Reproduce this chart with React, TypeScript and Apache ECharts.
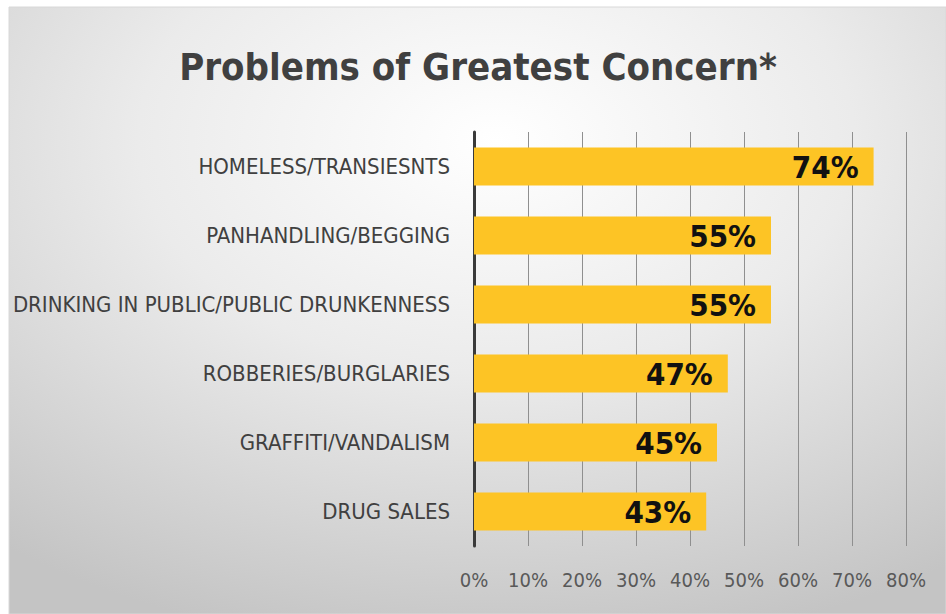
import React, { useEffect, useRef } from "react";
import * as echarts from "echarts";

const categories = [
  "HOMELESS/TRANSIESNTS",
  "PANHANDLING/BEGGING",
  "DRINKING IN PUBLIC/PUBLIC DRUNKENNESS",
  "ROBBERIES/BURGLARIES",
  "GRAFFITI/VANDALISM",
  "DRUG SALES",
];
const values = [74, 55, 55, 47, 45, 43];
const titleText = "Problems of Greatest Concern*";
const axisMin = 0;
const axisMax = 80;
const axisStep = 10;

const FONT = "'DejaVu Sans Condensed', 'Liberation Sans', sans-serif";

export default function App() {
  const ref = useRef<HTMLDivElement>(null);
  useEffect(() => {
    if (!ref.current) return;
    const chart = echarts.init(ref.current, null, { renderer: "svg" });
    chart.setOption({
      animation: false,
      backgroundColor: "#ffffff",
      graphic: [
        {
          type: "rect",
          z: -10,
          silent: true,
          shape: { x: 9, y: 7, width: 946 - 9, height: 614 - 7 },
          style: {
            fill: new echarts.graphic.RadialGradient(0.52, 0.22, 0.85, [
              { offset: 0, color: "#ffffff" },
              { offset: 0.45, color: "#ebebeb" },
              { offset: 1, color: "#c4c4c4" },
            ]),
            stroke: "#d8d8d8",
            lineWidth: 1,
          },
        },
        {
          type: "text",
          x: 478,
          y: 67,
          style: {
            text: titleText,
            fill: "#404040",
            font: `bold 38px ${FONT}`,
            textAlign: "center",
            textVerticalAlign: "middle",
          },
        },
      ],
      grid: {
        left: 474,
        right: 40,
        top: 132,
        bottom: 68,
        containLabel: false,
        outerBoundsMode: "none",
      },
      xAxis: {
        type: "value",
        min: axisMin,
        max: axisMax,
        interval: axisStep,
        axisLine: { show: false },
        axisTick: { show: false },
        splitLine: { show: true, lineStyle: { color: "#8f8f8f", width: 1 } },
        axisLabel: {
          formatter: "{value}%",
          color: "#595959",
          fontFamily: FONT,
          fontSize: 20,
          margin: 24,
        },
      },
      yAxis: {
        type: "category",
        inverse: true,
        data: categories,
        axisLine: { show: true, lineStyle: { color: "#3a3a3a", width: 3 } },
        axisTick: { show: false },
        axisLabel: {
          color: "#404040",
          fontFamily: FONT,
          fontSize: 22,
          margin: 24,
        },
      },
      series: [
        {
          type: "bar",
          data: values,
          barWidth: 38,
          itemStyle: { color: "#fdc425" },
          label: {
            show: true,
            position: "insideRight",
            distance: 15,
            formatter: "{c}%",
            color: "#111111",
            fontFamily: FONT,
            fontWeight: "bold",
            fontSize: 31,
          },
        },
      ],
    });
    return () => chart.dispose();
  }, []);
  return (
    <div
      ref={ref}
      style={{ position: "fixed", left: 0, top: 0, width: 946, height: 614 }}
    />
  );
}
